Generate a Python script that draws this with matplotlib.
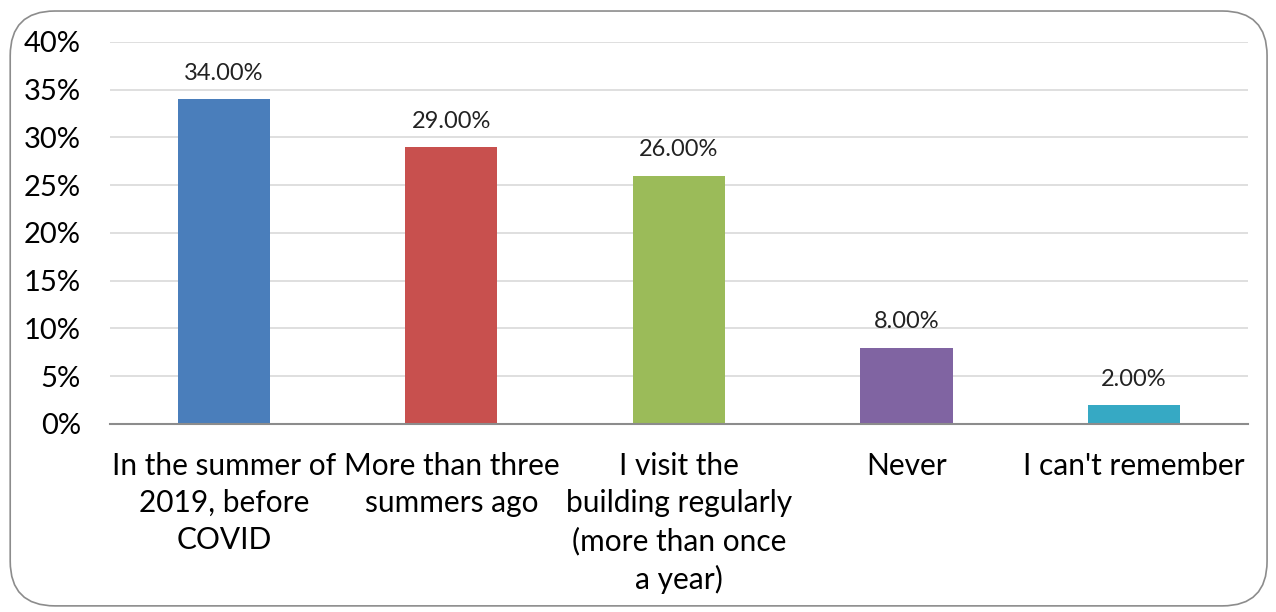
import matplotlib.pyplot as plt
from matplotlib.patches import FancyBboxPatch
from matplotlib.ticker import PercentFormatter

plt.rcParams['font.family'] = ['Lato', 'DejaVu Sans']

# survey answers and shares (%)
categories = ['In the summer of\n2019, before\nCOVID',
              'More than three\nsummers ago',
              'I visit the\nbuilding regularly\n(more than once\na year)',
              'Never',
              "I can't remember"]
shares = [34.0, 29.0, 26.0, 8.0, 2.0]
colors = ['#4A7EBB', '#C8504E', '#9BBB59', '#8064A2', '#36A9C4']

fig = plt.figure(figsize=(12.76, 6.12), dpi=100)
ax = fig.add_axes([0.0862, 0.3072, 0.8918, 0.6242])

# rounded frame around the whole chart
frame = FancyBboxPatch((0.008, 0.01), 0.985, 0.972,
                       boxstyle='round,pad=0,rounding_size=0.035',
                       transform=fig.transFigure, fill=False,
                       edgecolor='#8C8C8C', linewidth=1.2,
                       mutation_aspect=1276 / 612)
fig.patches.append(frame)

x = range(len(categories))
bars = ax.bar(x, shares, width=0.405, color=colors, zorder=3)
for b, v in zip(bars, shares):
    ax.text(b.get_x() + b.get_width() / 2, v + 1.6, '%.2f%%' % v,
            ha='center', va='bottom', fontsize=17, color='#222222')

ax.set_xlim(-0.5, len(categories) - 0.5)
ax.set_ylim(0, 40)
ax.set_yticks(range(0, 41, 5))
ax.yaxis.set_major_formatter(PercentFormatter(decimals=0))
ax.grid(axis='y', color='#D9D9D9', linewidth=1.2, zorder=0)
ax.set_xticks(list(x))
ax.set_xticklabels(categories, fontsize=21.5, linespacing=1.4)
ax.tick_params(axis='x', length=0, pad=20)
ax.tick_params(axis='y', length=0, pad=21, labelsize=21)

for s in ['top', 'right', 'left']:
    ax.spines[s].set_visible(False)
ax.spines['bottom'].set_color('#8C8C8C')
ax.spines['bottom'].set_linewidth(1.5)
ax.spines['bottom'].set_zorder(4)

fig.savefig('out.png', dpi=100)
